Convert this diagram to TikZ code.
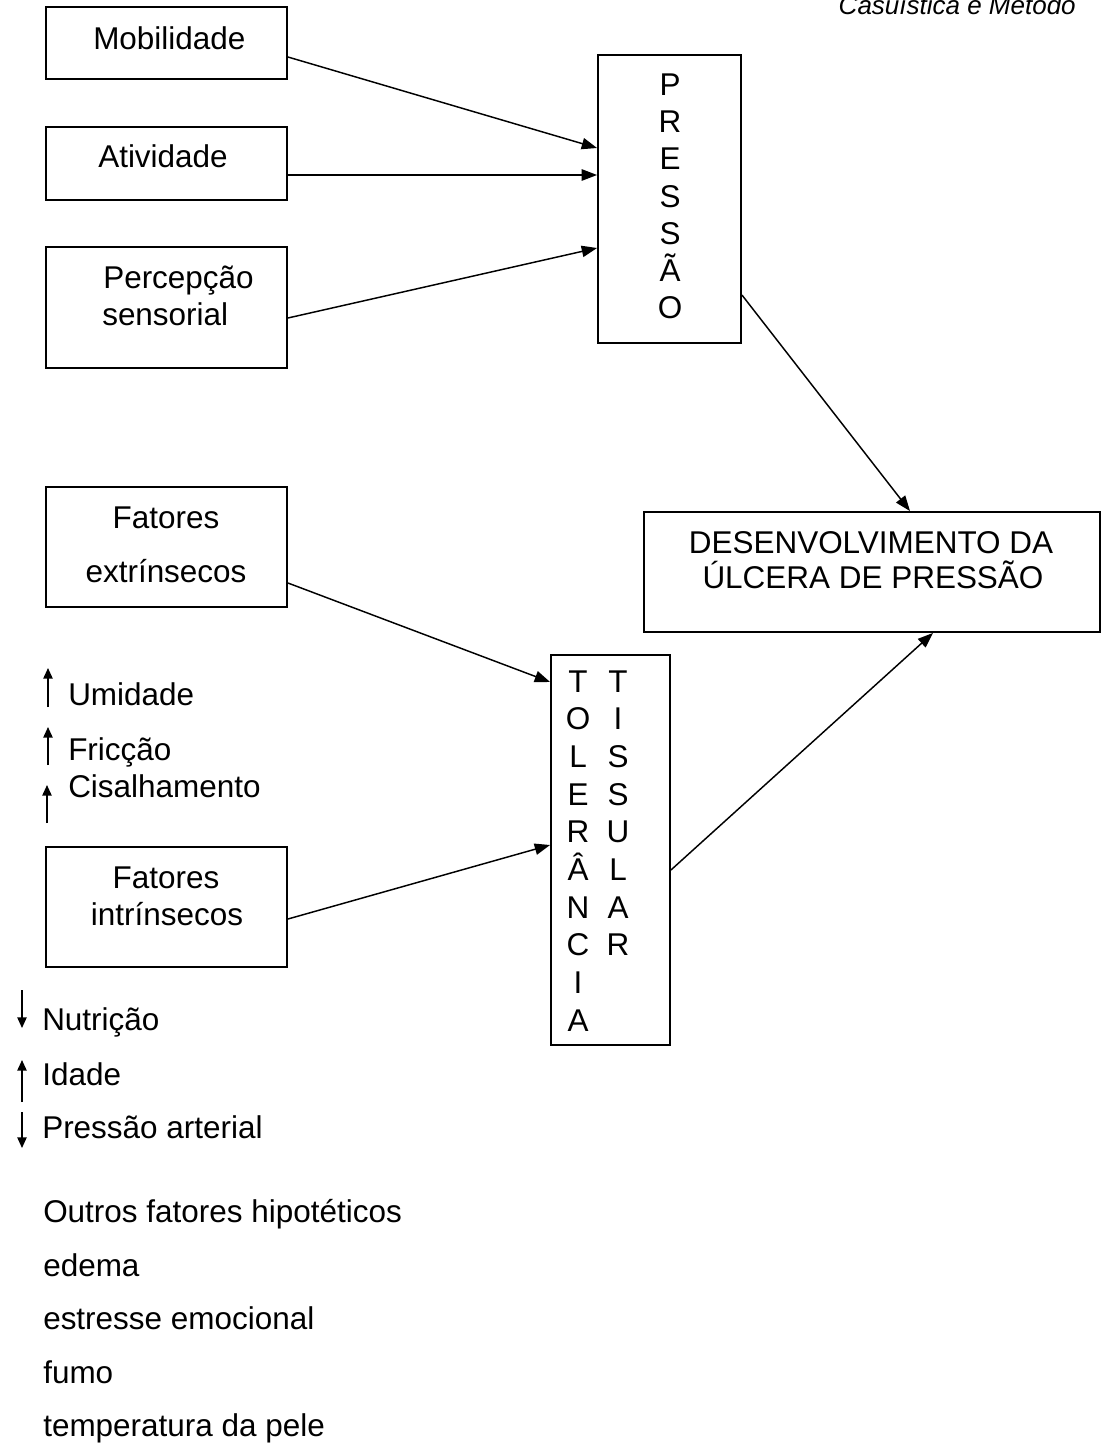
\documentclass[tikz,border=0pt]{standalone}
\usepackage{fontspec}
\setmainfont{Liberation Sans}
\usetikzlibrary{arrows.meta}
\newdimen\pu \pu=0.75pt
\tikzset{
 box/.style={draw, line width=1.4pt, inner sep=0pt, rectangle},
 txt/.style={inner sep=0pt, font=\fontsize{23.6pt}{28pt}\selectfont},
 lbl/.style={txt, anchor=base west},
 ctr/.style={txt, anchor=base},
 conn/.style={line width=1.1pt, -{Triangle[length=11.5pt,width=8.5pt]}},
 mini/.style={line width=1.1pt, -{Triangle[length=8pt,width=7pt]}},
}
\begin{document}
\begin{tikzpicture}[x=0.75pt,y=-0.75pt]
\useasboundingbox (0,0) rectangle (1106,1452);
% header
\node[inner sep=0pt, anchor=base east, font=\fontsize{19.5pt}{22pt}\selectfont\itshape] (hdr) at (1076,15) {Casuística e Método};
% boxes
\node[box, minimum width=241\pu, minimum height=72\pu] (mob) at (166.5,43) {};
\node[box, minimum width=241\pu, minimum height=73\pu] (ativ) at (166.5,163.5) {};
\node[box, minimum width=241\pu, minimum height=121\pu] (perc) at (166.5,307.5) {};
\node[box, minimum width=143\pu, minimum height=288\pu] (press) at (669.5,199) {};
\node[box, minimum width=456\pu, minimum height=120\pu] (desenv) at (872,572) {};
\node[box, minimum width=241\pu, minimum height=120\pu] (fext) at (166.5,547) {};
\node[box, minimum width=241\pu, minimum height=120\pu] (fint) at (166.5,907) {};
\node[box, minimum width=119\pu, minimum height=390\pu] (tol) at (610.5,850) {};
% box texts
\node[lbl] (mobt) at (93,50) {Mobilidade};
\node[lbl] (ativt) at (98,167) {Atividade};
\node[lbl] (perct1) at (103,288) {Percepção};
\node[lbl] (perct2) at (102,325) {sensorial};
\node[ctr] (fextt1) at (166,528) {Fatores};
\node[ctr] (fextt2) at (166,582) {extrínsecos};
\node[ctr] (fintt1) at (166,888) {Fatores};
\node[ctr] (fintt2) at (167,925) {intrínsecos};
\node[ctr] (d1) at (871,553) {DESENVOLVIMENTO DA};
\node[ctr] (d2) at (873,588) {ÚLCERA DE PRESSÃO};
\foreach \l [count=\i] in {P,R,E,S,S,Ã,O}
  \node[ctr] (pl\i) at (670,{96+37*(\i-1)}) {\l};
\foreach \l [count=\i] in {T,O,L,E,R,Â,N,C,I,A}
  \node[ctr] (tl\i) at (578,{692+37.7*(\i-1)}) {\l};
\foreach \l [count=\i] in {T,I,S,S,U,L,A,R}
  \node[ctr] (ts\i) at (618,{692+37.7*(\i-1)}) {\l};
% connectors
\draw[conn] ([yshift=-14\pu]mob.east) -- ([yshift=51\pu]press.west);
\draw[conn] ([yshift=-11.5\pu]ativ.east) -- ([yshift=24\pu]press.west);
\draw[conn] ([yshift=-10.5\pu]perc.east) -- ([yshift=-49\pu]press.west);
\draw[conn] ([yshift=-96\pu]press.east) -- ([xshift=38\pu]desenv.north);
\draw[conn] ([yshift=-36\pu]fext.east) -- ([yshift=168\pu]tol.west);
\draw[conn] ([yshift=-12\pu]fint.east) -- ([yshift=5\pu]tol.west);
\draw[conn] ([yshift=-20\pu]tol.east) -- ([xshift=61\pu]desenv.south);
% side factors
\node[lbl] (umi) at (68,705) {Umidade};
\node[lbl] (fri) at (68,760) {Fricção};
\node[lbl] (cis) at (68,797) {Cisalhamento};
\node[lbl] (nut) at (42,1030) {Nutrição};
\node[lbl] (ida) at (42,1085) {Idade};
\node[lbl] (pa) at (42,1138) {Pressão arterial};
\coordinate (u1) at (48,707); \coordinate (u2) at (48,668);
\coordinate (f1) at (48,765); \coordinate (f2) at (48,727);
\coordinate (c1) at (47,823); \coordinate (c2) at (47,785);
\coordinate (n1) at (22,990); \coordinate (n2) at (22,1028);
\coordinate (i1) at (22,1102); \coordinate (i2) at (22,1060);
\coordinate (p1) at (22,1112); \coordinate (p2) at (22,1148);
\draw[mini] (u1) -- (u2);
\draw[mini] (f1) -- (f2);
\draw[mini] (c1) -- (c2);
\draw[mini] (n1) -- (n2);
\draw[mini] (i1) -- (i2);
\draw[mini] (p1) -- (p2);
% others
\node[lbl] (o1) at (43,1222) {Outros fatores hipotéticos};
\node[lbl] (o2) at (43,1276) {edema};
\node[lbl] (o3) at (43,1329.5) {estresse emocional};
\node[lbl] (o4) at (43,1383) {fumo};
\node[lbl] (o5) at (43,1436.5) {temperatura da pele};
\end{tikzpicture}
\end{document}
